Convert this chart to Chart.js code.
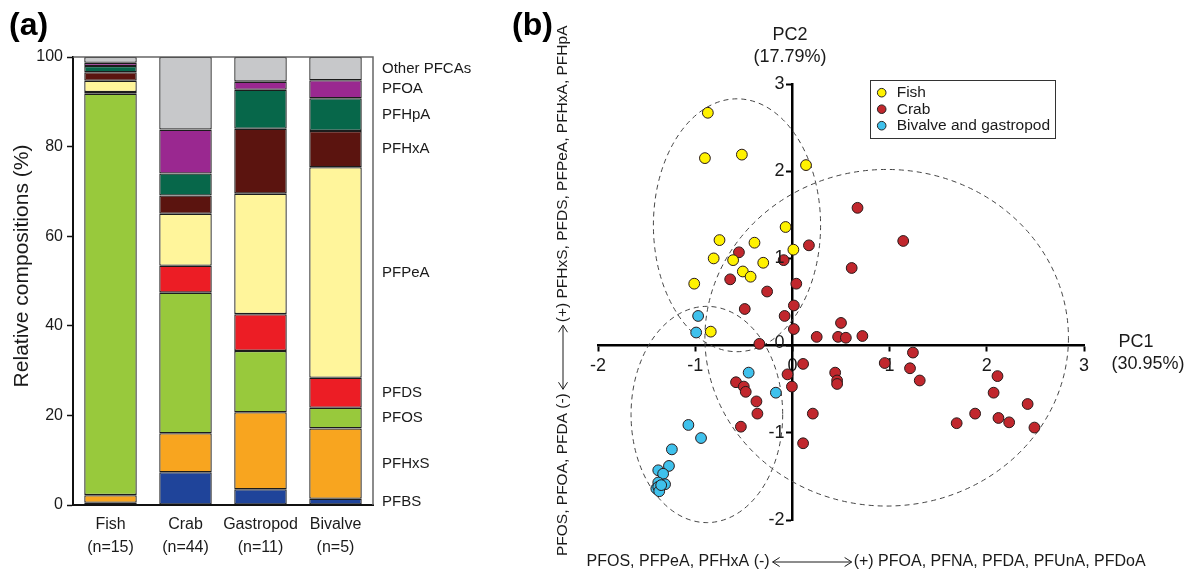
<!DOCTYPE html>
<html>
<head>
<meta charset="utf-8">
<script src="https://cdn.jsdelivr.net/npm/chart.js@4.4.1/dist/chart.umd.min.js"></script>
<style>
  html, body { margin: 0; padding: 0; background: #fff; }
  #wrap { position: relative; width: 1184px; height: 570px; overflow: hidden; }
  #chartA { position: absolute; left: 0; top: 0; }
  #chartB { position: absolute; left: 500px; top: 0; }
</style>
</head>
<body>
<div id="wrap">
  <canvas id="chartA" width="500" height="570"></canvas>
  <canvas id="chartB" width="684" height="570"></canvas>
</div>
<script>
const FONT = "'Liberation Sans', Arial, Helvetica, sans-serif";
Chart.defaults.font.family = FONT;
Chart.defaults.color = '#1a1a1a';

// ---- panel (a): relative compositions (%) ----
const groups = [['Fish', '(n=15)'], ['Crab', '(n=44)'], ['Gastropod', '(n=11)'], ['Bivalve', '(n=5)']];
const compounds = ['PFBS', 'PFHxS', 'PFOS', 'PFDS', 'PFPeA', 'PFHxA', 'PFHpA', 'PFOA', 'Other PFCAs'];
const compoundColors = ['#1f449a', '#f8a51f', '#98c93c', '#ec1d25', '#fff59b', '#5b140f', '#07674a', '#9a2890', '#c7c8ca'];
const pfbs   = [0.5, 7.3, 3.5, 1.4];
const pfhxs  = [1.7, 8.7, 17.2, 15.7];
const pfos   = [89.6, 31.4, 13.7, 4.6];
const pfds   = [0.4, 6.0, 8.2, 6.7];
const pfpea  = [2.5, 11.6, 26.9, 47.0];
const pfhxa  = [1.9, 4.1, 14.5, 8.1];
const pfhpa  = [1.4, 4.9, 8.7, 7.3];
const pfoa   = [0.7, 9.8, 1.8, 4.0];
const others = [1.3, 16.2, 5.5, 5.2];
const seriesA = [pfbs, pfhxs, pfos, pfds, pfpea, pfhxa, pfhpa, pfoa, others];
const yTicksA = [0, 20, 40, 60, 80, 100];

// ---- panel (b): PCA scores ----
const fishX = [-0.87, -0.90, -0.52, 0.14, -0.07, 0.01, -0.75, -0.39, -0.81, -0.61, -0.30, -0.51, -0.43, -1.01, -0.84];
const fishY = [2.67, 2.15, 2.19, 2.07, 1.36, 1.10, 1.21, 1.18, 1.00, 0.98, 0.95, 0.85, 0.79, 0.71, 0.16];
const crabX = [-0.55, -0.09, 0.17, 0.67, 0.61, -0.64, 0.04, -0.26, -0.49, 0.015, -0.08, 0.015, 0.25, 0.50, 0.47,
               0.55, 0.72, -0.34, 1.14, 1.24, 0.95, 1.21, 1.31, 0.11, -0.05, -0.005, 0.44, 0.46, 0.46, 0.21,
               0.11, 2.11, 2.07, 2.42, 1.88, 2.12, 2.23, 1.69, 2.49, -0.58, -0.50, -0.48, -0.37, -0.36, -0.53];
const crabY = [1.07, 0.98, 1.15, 1.58, 0.89, 0.76, 0.71, 0.62, 0.42, 0.46, 0.34, 0.19, 0.10, 0.26, 0.10,
               0.09, 0.11, 0.02, 1.20, -0.08, -0.20, -0.26, -0.40, -0.21, -0.33, -0.47, -0.31, -0.40, -0.44, -0.78,
               -1.12, -0.35, -0.54, -0.67, -0.78, -0.83, -0.88, -0.89, -0.94, -0.42, -0.47, -0.53, -0.64, -0.78, -0.93];
const bivX = [-0.97, -0.99, -0.45, -0.17, -1.07, -0.94, -1.24, -1.27, -1.38, -1.33, -1.31, -1.38, -1.40, -1.38, -1.37, -1.35];
const bivY = [0.34, 0.15, -0.31, -0.54, -0.91, -1.06, -1.19, -1.38, -1.43, -1.47, -1.59, -1.57, -1.64, -1.62, -1.67, -1.60];
const groupNames = ['Fish', 'Crab', 'Bivalve and gastropod'];
const groupColors = ['#fff200', '#c1272d', '#3fc1ec'];
// confidence ellipses (centre and radii in PC units): fish, crab, bivalve+gastropod
const ellCx = [-0.57, 0.97, -0.88];
const ellCy = [1.38, 0.09, -0.79];
const ellRx = [0.86, 1.87, 0.78];
const ellRy = [1.45, 1.93, 1.24];
const pcTicks = [-2, -1, 0, 1, 2, 3];

// extra drawing for panel (a): frame, right-hand labels, titles
const decorA = {
    id: 'decorA',
    afterDraw(chart) {
        const {ctx, chartArea: a, scales} = chart;
        ctx.save();
        ctx.strokeStyle = '#666';
        ctx.lineWidth = 1.5;
        ctx.beginPath();
        ctx.moveTo(a.left, a.top);
        ctx.lineTo(a.right, a.top);
        ctx.lineTo(a.right, a.bottom);
        ctx.stroke();

        // labels next to last bar, at the middle of each segment
        const last = groups.length - 1;
        let cum = 0;
        ctx.fillStyle = '#1a1a1a';
        ctx.font = '15px ' + FONT;
        ctx.textAlign = 'left';
        ctx.textBaseline = 'middle';
        compounds.forEach((name, i) => {
            const v = seriesA[i][last];
            ctx.fillText(name, a.right + 9, scales.y.getPixelForValue(cum + v / 2));
            cum += v;
        });

        ctx.save();
        ctx.translate(22, 266);
        ctx.rotate(-Math.PI / 2);
        ctx.textAlign = 'center';
        ctx.font = '21px ' + FONT;
        ctx.fillText('Relative compositions (%)', 0, 0);
        ctx.restore();

        ctx.font = 'bold 32px ' + FONT;
        ctx.textAlign = 'left';
        ctx.fillStyle = '#000';
        ctx.fillText('(a)', 9, 26);
        ctx.restore();
    }
};

let ctxA = document.getElementById('chartA').getContext('2d');
let chartA = new Chart(ctxA, {
    type: 'bar',
    data: {
        labels: groups,
        datasets: compounds.map((name, i) => ({
            label: name,
            data: seriesA[i],
            backgroundColor: compoundColors[i],
            borderColor: '#1c1c1c',
            borderWidth: 1.3,
            borderSkipped: false,
            barPercentage: 0.7,
            categoryPercentage: 1
        }))
    },
    options: {
        responsive: false,
        animation: false,
        layout: { padding: { top: 57, right: 127, left: 0, bottom: 0 } },
        plugins: { legend: { display: false }, tooltip: { enabled: false } },
        scales: {
            x: {
                stacked: true,
                grid: { display: false },
                border: { color: '#111', width: 2 },
                ticks: { font: { size: 16, lineHeight: 1.45 }, color: '#1a1a1a', padding: 0,
                         maxRotation: 0, autoSkip: false },
                afterFit: s => { s.height = 65; }
            },
            y: {
                stacked: true,
                min: 0,
                max: 100,
                afterBuildTicks: s => { s.ticks = yTicksA.map(v => ({ value: v })); },
                ticks: { font: { size: 16 }, color: '#1a1a1a', padding: 4 },
                grid: { drawOnChartArea: false, tickLength: 6, color: '#111', tickWidth: 1.5 },
                border: { color: '#111', width: 2 },
                afterFit: s => { s.width = 73; }
            }
        }
    },
    plugins: [decorA]
});

// ellipses under the points
const ellipsesB = {
    id: 'ellipsesB',
    beforeDatasetsDraw(chart) {
        const {ctx, scales: {x, y}} = chart;
        ctx.save();
        ctx.strokeStyle = '#444';
        ctx.lineWidth = 1;
        ctx.setLineDash([5, 4]);
        ellCx.forEach((cx, i) => {
            const px = x.getPixelForValue(cx);
            const py = y.getPixelForValue(ellCy[i]);
            const rx = Math.abs(x.getPixelForValue(cx + ellRx[i]) - px);
            const ry = Math.abs(y.getPixelForValue(ellCy[i] + ellRy[i]) - py);
            ctx.beginPath();
            ctx.ellipse(px, py, rx, ry, 0, 0, Math.PI * 2);
            ctx.stroke();
        });
        ctx.restore();
    }
};

function arrowLine(ctx, x1, x2, y) {
    const h = 7, w = 4.5;
    ctx.beginPath();
    ctx.moveTo(x1, y); ctx.lineTo(x2, y);
    ctx.moveTo(x1 + h, y - w); ctx.lineTo(x1, y); ctx.lineTo(x1 + h, y + w);
    ctx.moveTo(x2 - h, y - w); ctx.lineTo(x2, y); ctx.lineTo(x2 - h, y + w);
    ctx.stroke();
}

// legend box, axis captions, y tick labels and loading captions for panel (b)
const decorB = {
    id: 'decorB',
    afterDraw(chart) {
        const {ctx, scales: {x, y}} = chart;
        ctx.save();
        ctx.fillStyle = '#1a1a1a';

        // y tick labels, left of the centred axis
        ctx.font = '18px ' + FONT;
        ctx.textAlign = 'right';
        ctx.textBaseline = 'middle';
        const ax = x.getPixelForValue(0);
        y.ticks.forEach(t => {
            ctx.fillText(String(t.value), ax - 8, y.getPixelForValue(t.value) + (t.value === 0 ? -3 : 0));
        });

        // legend
        ctx.lineWidth = 1;
        ctx.strokeStyle = '#333';
        ctx.strokeRect(370.5, 80.5, 185, 58);
        ctx.font = '15.5px ' + FONT;
        ctx.textAlign = 'left';
        groupNames.forEach((name, i) => {
            const yy = 92.7 + i * 16.5;
            ctx.beginPath();
            ctx.arc(381.7, yy, 4.3, 0, Math.PI * 2);
            ctx.fillStyle = groupColors[i];
            ctx.fill();
            ctx.strokeStyle = '#222';
            ctx.stroke();
            ctx.fillStyle = '#1a1a1a';
            ctx.fillText(name, 396.7, yy + 0.5);
        });

        // axis names
        ctx.font = '18px ' + FONT;
        ctx.textAlign = 'center';
        ctx.fillText('PC2', 290, 35);
        ctx.fillText('(17.79%)', 290, 57);
        ctx.fillText('PC1', 636, 342);
        ctx.fillText('(30.95%)', 648, 364);

        // loading captions
        ctx.textAlign = 'left';
        ctx.lineWidth = 1;
        ctx.strokeStyle = '#1a1a1a';
        ctx.font = '16px ' + FONT;
        const b1 = 'PFOS, PFPeA, PFHxA (-)';
        const b2 = '(+) PFOA, PFNA, PFDA, PFUnA, PFDoA';
        const wb1 = ctx.measureText(b1).width;
        ctx.fillText(b1, 86.5, 562);
        arrowLine(ctx, 86.5 + wb1 + 3, 86.5 + wb1 + 82, 562);
        ctx.fillText(b2, 86.5 + wb1 + 84, 562);

        ctx.save();
        ctx.font = '15.5px ' + FONT;
        ctx.translate(63, 556);
        ctx.rotate(-Math.PI / 2);
        const v1 = 'PFOS, PFOA, PFDA (-)';
        const v2 = '(+) PFHxS, PFDS, PFPeA, PFHxA, PFHpA';
        const wv1 = ctx.measureText(v1).width;
        ctx.fillText(v1, 0, 0);
        arrowLine(ctx, wv1 + 4, wv1 + 68, 0);
        ctx.fillText(v2, wv1 + 71, 0);
        ctx.restore();

        ctx.font = 'bold 32px ' + FONT;
        ctx.fillStyle = '#000';
        ctx.fillText('(b)', 12, 26);
        ctx.restore();
    }
};

function scatterSet(i, xs, ys) {
    return {
        label: groupNames[i],
        data: xs.map((x, k) => ({ x: x, y: ys[k] })),
        backgroundColor: groupColors[i],
        borderColor: '#2a1a1a',
        borderWidth: 1,
        pointRadius: 5.4
    };
}

let ctxB = document.getElementById('chartB').getContext('2d');
let chartB = new Chart(ctxB, {
    type: 'scatter',
    data: {
        datasets: [scatterSet(0, fishX, fishY), scatterSet(1, crabX, crabY), scatterSet(2, bivX, bivY)]
    },
    options: {
        responsive: false,
        animation: false,
        layout: { padding: { left: 98, right: 100, top: 84, bottom: 50 } },
        plugins: { legend: { display: false }, tooltip: { enabled: false } },
        scales: {
            x: {
                type: 'linear',
                min: -2,
                max: 3,
                position: { y: 0 },
                afterBuildTicks: s => { s.ticks = pcTicks.map(v => ({ value: v })); },
                ticks: { font: { size: 18 }, color: '#1a1a1a', padding: 5 },
                grid: { drawOnChartArea: false, tickLength: 5, color: '#000', tickWidth: 2 },
                border: { color: '#000', width: 2.5 }
            },
            y: {
                type: 'linear',
                min: -2,
                max: 3,
                position: { x: 0 },
                afterBuildTicks: s => { s.ticks = pcTicks.map(v => ({ value: v })); },
                ticks: { display: false },
                grid: { drawOnChartArea: false, tickLength: 5, color: '#000', tickWidth: 2 },
                border: { color: '#000', width: 2.5 }
            }
        }
    },
    plugins: [ellipsesB, decorB]
});
</script>
</body>
</html>
